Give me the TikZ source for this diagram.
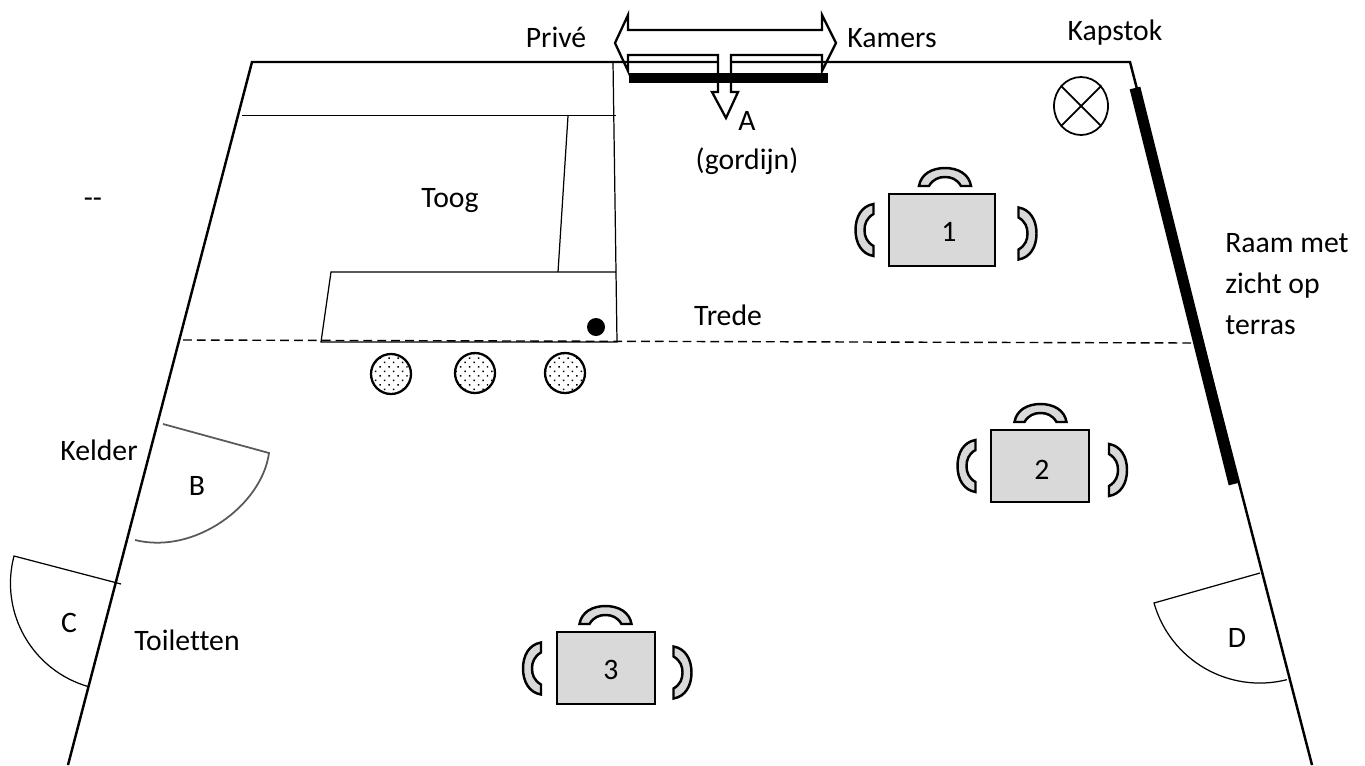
\documentclass[tikz,border=0pt]{standalone}
\usepackage{fontspec}
\setmainfont{Carlito}[Ligatures=NoCommon]
\usetikzlibrary{positioning,shapes.geometric,patterns.meta}

\definecolor{tafelgrijs}{HTML}{D9D9D9}

\tikzset{
  muur/.style={line width=1.4pt},
  dun/.style={line width=0.7pt},
  label/.style={inner sep=0pt,text height=14.6pt,text depth=3pt,font=\fontsize{16.9}{23.2}\selectfont},
  tafel/.style={draw,line width=1.4pt,fill=tafelgrijs,inner sep=0pt,minimum height=1.44cm},
  krukje/.style={circle,draw,line width=1.3pt,inner sep=0pt,minimum size=0.8cm,
    pattern={Dots[distance=3.6pt,angle=45,radius=0.6pt]}},
  stoel/.pic={
    \draw[line width=1.4pt,fill=tafelgrijs,line join=miter]
      (-26,9) .. controls (-24,-3) and (-13,-9) .. (0,-9)
      .. controls (13,-9) and (24,-3) .. (26,9) -- (16,9)
      .. controls (12,2) and (6,0) .. (0,0)
      .. controls (-6,0) and (-12,2) .. (-16,9) -- cycle;
  }
}

\begin{document}
\begin{tikzpicture}[x=0.02cm,y=-0.02cm]
\useasboundingbox (0,0) rectangle (1365,765);

% Muren
\draw[muur] (68,765) -- (252,62) -- (718,62);
\draw[muur] (731,62) -- (1130,62) -- (1312,765);

% Raam
\draw[line width=0.22cm] (1135,88) -- (1234,484);

% Toog
\draw[dun] (613,62) -- (617,342) -- (321,342) -- (331,272) -- (616,272);
\draw[dun] (242,115.6) -- (616,115.6);
\draw[dun] (568,116) -- (558,272);
\node[circle,fill=black,inner sep=0pt,minimum size=0.36cm] (kassa) at (596,327) {};

% Trede
\draw[line width=0.8pt,dash pattern=on 5pt off 2.9pt] (183,340) -- (1195,343);

% Krukjes
\foreach \x/\y/\n in {391/374/a,475/373/b,565/373/c}
  \node[krukje] (kruk\n) at (\x,\y) {};

% Gordijn met pijlen
\draw[line width=1.3pt,line join=miter]
  (615,43) -- (628,15) -- (628,30) -- (822,30) -- (822,15) -- (836,43)
  -- (822,71) -- (822,55) -- (731,55) -- (731,92) -- (738,92) -- (726,118)
  -- (712,92) -- (718,92) -- (718,55) -- (628,55) -- (628,71) -- cycle;
\fill (629,73) rectangle (828,83);

% Lamp
\node[draw,ellipse,line width=1pt,inner sep=0pt,minimum width=1.08cm,minimum height=1.16cm] (lamp) at (1081,106) {};
\draw[line width=1pt] (lamp.135) -- (lamp.-45);
\draw[line width=1pt] (lamp.45) -- (lamp.-135);

% Deuren
\draw[line width=1pt,black!65] (163,424) -- (269,453)
  .. controls (262,505) and (195,555) .. (135,540);
\draw[dun] (121,584) -- (14,556) arc[start angle=165.3,end angle=254,radius=2.15cm];
\draw[dun] (1260,573) -- (1154,603) arc[start angle=195.8,end angle=284.2,radius=2.2cm];

% Tafels en stoelen
\node[tafel,minimum width=2.12cm] (tafel1) at (942,230) {};
\pic at (945,177) {stoel};
\pic[rotate=90] at (864.5,230) {stoel};
\pic[rotate=-90] at (1027.5,233.5) {stoel};
\node[tafel,minimum width=1.96cm] (tafel2) at (1040,466) {};
\pic at (1040.5,413) {stoel};
\pic[rotate=90] at (966.5,466) {stoel};
\pic[rotate=-90] at (1118,470) {stoel};
\node[tafel,minimum width=1.96cm] (tafel3) at (606,668) {};
\pic at (605.5,615) {stoel};
\pic[rotate=90] at (532,668.5) {stoel};
\pic[rotate=-90] at (682.5,672.5) {stoel};
\node[label] (nr1) at (949,231) {1};
\node[label] (nr2) at (1042,469) {2};
\node[label] (nr3) at (611,669) {3};

% Teksten
\node[label] (prive) at (556,37) {Privé};
\node[label] (kamers) at (892,37) {Kamers};
\node[label] (kapstok) at (1115,30) {Kapstok};
\node[label] (a) at (747,120) {A};
\node[label] (gordijn) at (747,159) {(gordijn)};
\node[label] (toog) at (450,197) {Toog};
\node[label] (streep) at (93,197) {-{}-};
\node[label,text height=,text depth=,align=left,anchor=west] (raam) at (1225,284) {Raam met\\zicht op\\terras};
\node[label] (trede) at (728,315) {Trede};
\node[label] (kelder) at (99,450) {Kelder};
\node[label] (b) at (197,485) {B};
\node[label] (c) at (69,622) {C};
\node[label] (toiletten) at (187,640) {Toiletten};
\node[label] (d) at (1237,637) {D};
\end{tikzpicture}
\end{document}
